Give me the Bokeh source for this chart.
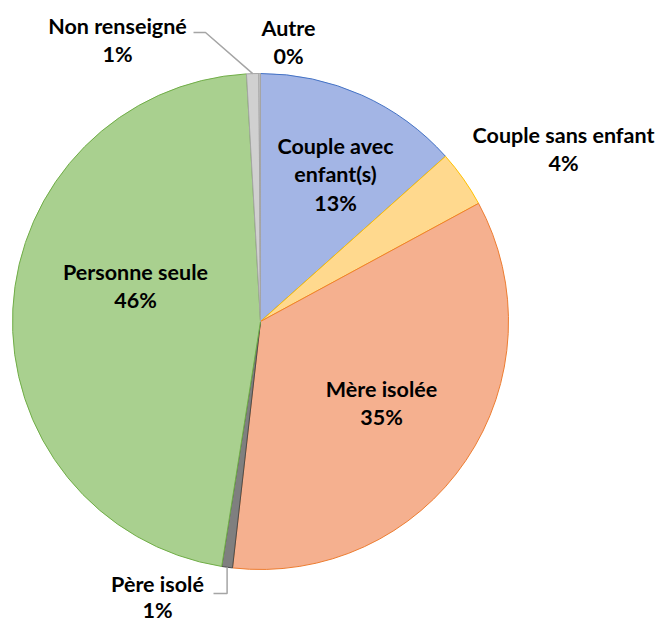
import math
from bokeh.plotting import figure
from bokeh.models import Range1d, ColumnDataSource
from bokeh.core.properties import value
from bokeh.embed import file_html
from bokeh.resources import INLINE

# ---- data (clockwise from 12 o'clock) ----
categories = ["Couple avec enfant(s)", "Couple sans enfant", "Mère isolée", "Père isolé",
              "Personne seule", "Non renseigné", "Autre"]
shares = [13.4, 3.7, 34.7, 0.7, 46.6, 0.8, 0.1]
pct_labels = ["13%", "4%", "35%", "1%", "46%", "1%", "0%"]
name_lines = [["Couple avec", "enfant(s)"], ["Couple sans enfant"], ["Mère isolée"], ["Père isolé"],
              ["Personne seule"], ["Non renseigné"], ["Autre"]]

# ---- style ----
fills = ["#a3b5e5", "#ffd98e", "#f5b08f", "#7f7f7f", "#a9d08f", "#d0d0d0", "#d0d0d0"]
edges = ["#4472c4", "#ffc000", "#ed7d31", "#4d4d4d", "#70ad47", "#a5a5a5", "#a5a5a5"]
# label anchor (first line centre) in page pixel coordinates
label_pos = [(335, 145), (563, 134), (381, 388), (157, 583), (135, 271), (117, 25), (288, 27)]
line_h = [28.5, 28.5, 28.5, 26.0, 28.5, 28.5, 28.5]

CX, CY, R = 260, -321, 248

W, H = 658, 621
p = figure(width=W, height=H, output_backend="svg", toolbar_location=None,
           x_range=Range1d(0, W), y_range=Range1d(-H, 0),
           min_border=0, outline_line_color=None)
p.axis.visible = False
p.grid.visible = False

total = sum(shares)
cum = 0.0
starts, ends = [], []
for s in shares:
    starts.append(math.pi / 2 - 2 * math.pi * cum / total)
    cum += s
    ends.append(math.pi / 2 - 2 * math.pi * cum / total)

src = ColumnDataSource(dict(start=starts, end=ends, fill=fills, edge=edges, cat=categories))
p.wedge(x=CX, y=CY, radius=R, start_angle="start", end_angle="end", direction="clock",
        fill_color="fill", line_color="edge", line_width=1, source=src)

# labels
tx, ty, tt = [], [], []
for (lx, ly), lh, lines, pct in zip(label_pos, line_h, name_lines, pct_labels):
    for i, t in enumerate(lines + [pct]):
        tx.append(lx)
        ty.append(-(ly + i * lh))
        tt.append(t)
p.text(x=tx, y=ty, text=tt, text_align="center", text_baseline="middle",
       text_font=value("Lato"), text_font_style="bold", text_font_size="21.5px", text_color="#000000")

# leader lines (from slice rim to label)
def rim(idx):
    mid = (starts[idx] + ends[idx]) / 2
    return CX + R * math.cos(mid), CY + R * math.sin(mid)

# Non renseigné
rx, ry = rim(5)
p.line(x=[193, 205, rx], y=[-32, -32, ry], line_color="#a5a5a5", line_width=1.5)
# Père isolé
rx, ry = rim(3)
p.line(x=[213, rx, rx], y=[-593, -593, ry], line_color="#a5a5a5", line_width=1.5)

open("out.html", "w").write(file_html(p, INLINE))
